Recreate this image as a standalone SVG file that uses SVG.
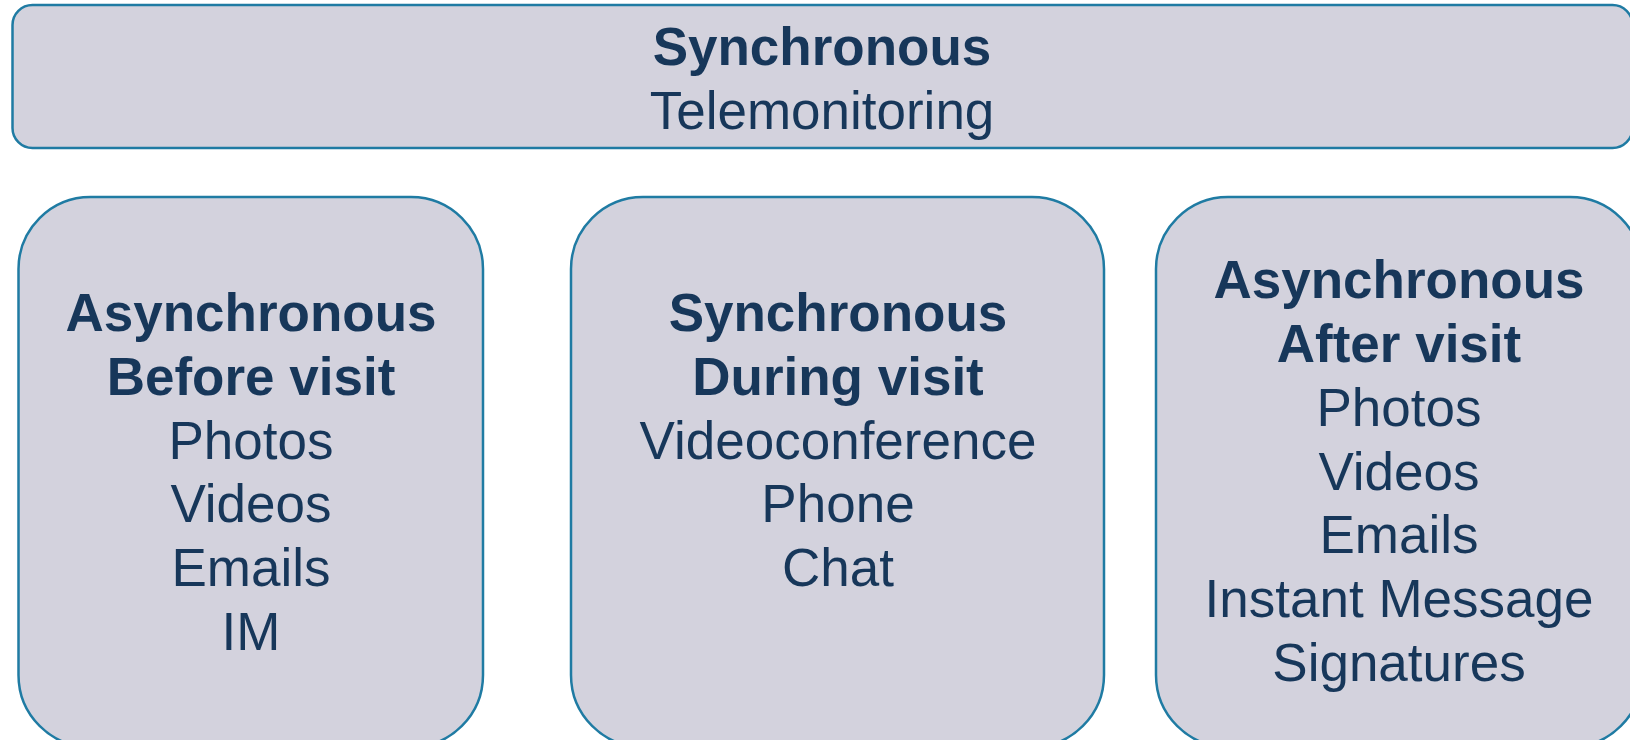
<svg xmlns="http://www.w3.org/2000/svg" width="1630" height="740" viewBox="0 0 1630 740">
<style>
.box{fill:#D3D2DD;stroke:#1F7BA3;stroke-width:2.5}
text{font-family:"Liberation Sans",Arial,sans-serif;font-size:53px;fill:#17375A;text-anchor:middle}
.b{font-weight:bold}
</style>
<rect width="1630" height="740" fill="#FFFFFF"/>
<g id="top">
<rect class="box" x="12.5" y="5" width="1620" height="143" rx="20" ry="20"/>
<text class="b" x="822" y="65">Synchronous</text>
<text x="822" y="129">Telemonitoring</text>
</g>
<g id="before">
<rect class="box" x="18.5" y="197" width="464.5" height="550" rx="72" ry="72"/>
<text class="b" x="251" y="330.5">Asynchronous</text>
<text class="b" x="251" y="394.5">Before visit</text>
<text x="251" y="458.5">Photos</text>
<text x="251" y="522">Videos</text>
<text x="251" y="586">Emails</text>
<text x="251" y="650">IM</text>
</g>
<g id="during">
<rect class="box" x="571" y="197" width="533" height="550" rx="72" ry="72"/>
<text class="b" x="838" y="330.5">Synchronous</text>
<text class="b" x="838" y="394.5">During visit</text>
<text x="838" y="458.5">Videoconference</text>
<text x="838" y="522">Phone</text>
<text x="838" y="586">Chat</text>
</g>
<g id="after">
<rect class="box" x="1156" y="197" width="486" height="550" rx="72" ry="72"/>
<text class="b" x="1399" y="298">Asynchronous</text>
<text class="b" x="1399" y="362">After visit</text>
<text x="1399" y="425.5">Photos</text>
<text x="1399" y="489.5">Videos</text>
<text x="1399" y="553">Emails</text>
<text x="1399" y="617">Instant Message</text>
<text x="1399" y="681">Signatures</text>
</g>
<g id="connectors"/>
</svg>
